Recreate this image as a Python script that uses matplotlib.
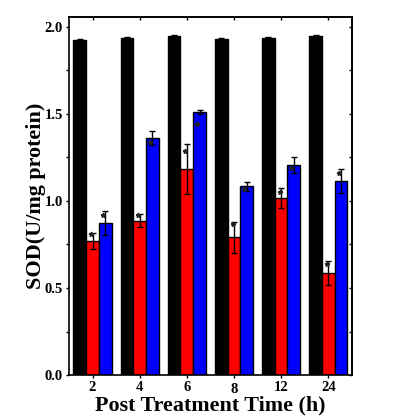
import matplotlib
matplotlib.use("Agg")
import matplotlib.pyplot as plt
import numpy as np
from matplotlib.ticker import MultipleLocator
from matplotlib.transforms import ScaledTranslation

plt.rcParams['font.family'] = ['Liberation Serif', 'DejaVu Serif']
plt.rcParams['font.weight'] = 'bold'

categories = ["2", "4", "6", "8", "12", "24"]
black_vals = [1.923, 1.934, 1.946, 1.929, 1.935, 1.946]
black_err = [0.005, 0.004, 0.003, 0.004, 0.004, 0.004]
red_vals = [0.768, 0.886, 1.181, 0.790, 1.015, 0.584]
red_err = [0.046, 0.038, 0.143, 0.090, 0.057, 0.068]
blue_vals = [0.871, 1.361, 1.508, 1.083, 1.206, 1.112]
blue_err = [0.070, 0.040, 0.012, 0.027, 0.048, 0.069]
red_star = [0.81, 0.92, 1.284, 0.865, 1.049, 0.636]
blue_star = [0.92, 1.34, 1.44, 1.066, 1.19, 1.158]

fig = plt.figure(figsize=(3.94, 4.2), dpi=100)
ax = fig.add_axes([0.175, 0.107, 0.718, 0.8525])

x = np.arange(len(categories))
w = 0.27
ekw = dict(ecolor='black', elinewidth=1.0, capsize=2.2, capthick=1.0)
ax.bar(x - w, black_vals, w, yerr=black_err, color='black', edgecolor='black', linewidth=1.0, error_kw=ekw)
ax.bar(x, red_vals, w, yerr=red_err, color='#ff0000', edgecolor='black', linewidth=1.0, error_kw=ekw)
ax.bar(x + w, blue_vals, w, yerr=blue_err, color='#0000ff', edgecolor='black', linewidth=1.0, error_kw=ekw)

ax.plot(x - 0.03, red_star, linestyle='none', marker='*', markersize=3.5, color='#222222')
ax.plot(x + w - 0.05, blue_star, linestyle='none', marker='*', markersize=3.5, color='#222222')

ax.set_xlim(-0.5, 5.5)
ax.set_ylim(0, 2.055)
ax.set_xticks(x)
ax.set_xticklabels(categories)
ax.yaxis.set_major_locator(MultipleLocator(0.5))
ax.yaxis.set_minor_locator(MultipleLocator(0.25))
ax.yaxis.set_major_formatter(matplotlib.ticker.FormatStrFormatter('%.1f'))

ax.tick_params(axis='y', which='both', direction='out', length=2.5, width=1.0, labelsize=10.5, pad=2, right=False)
ax.tick_params(axis='x', which='both', direction='out', length=2.5, width=1.0, labelsize=10.5, pad=2, top=False)

# right & top inward ticks
ax2 = ax.secondary_yaxis('right')
ax2.yaxis.set_major_locator(MultipleLocator(0.5))
ax2.yaxis.set_minor_locator(MultipleLocator(0.25))
ax2.tick_params(axis='y', which='both', direction='in', length=2.5, width=1.0, labelright=False)
ax3 = ax.secondary_xaxis('top')
ax3.set_xticks(x)
ax3.tick_params(axis='x', direction='in', length=2.5, width=1.0, labeltop=False)

for s in list(ax.spines.values()) + [ax2.spines['right'], ax3.spines['top']]:
    s.set_linewidth(1.2)

for lbl in ax.get_yticklabels() + ax.get_xticklabels():
    lbl.set_fontweight('bold')

# the "8" label sits slightly lower in the reference
t8 = ax.xaxis.get_major_ticks()[3].label1
t8.set_transform(t8.get_transform() + ScaledTranslation(0, -1.5/72, fig.dpi_scale_trans))

ax.set_xlabel('Post Treatment Time (h)', fontsize=15.8, fontweight='bold', labelpad=-1)
ax.set_ylabel('SOD(U/mg protein)', fontsize=15.9, fontweight='bold', labelpad=-1)

fig.savefig('out.png', dpi=100)
